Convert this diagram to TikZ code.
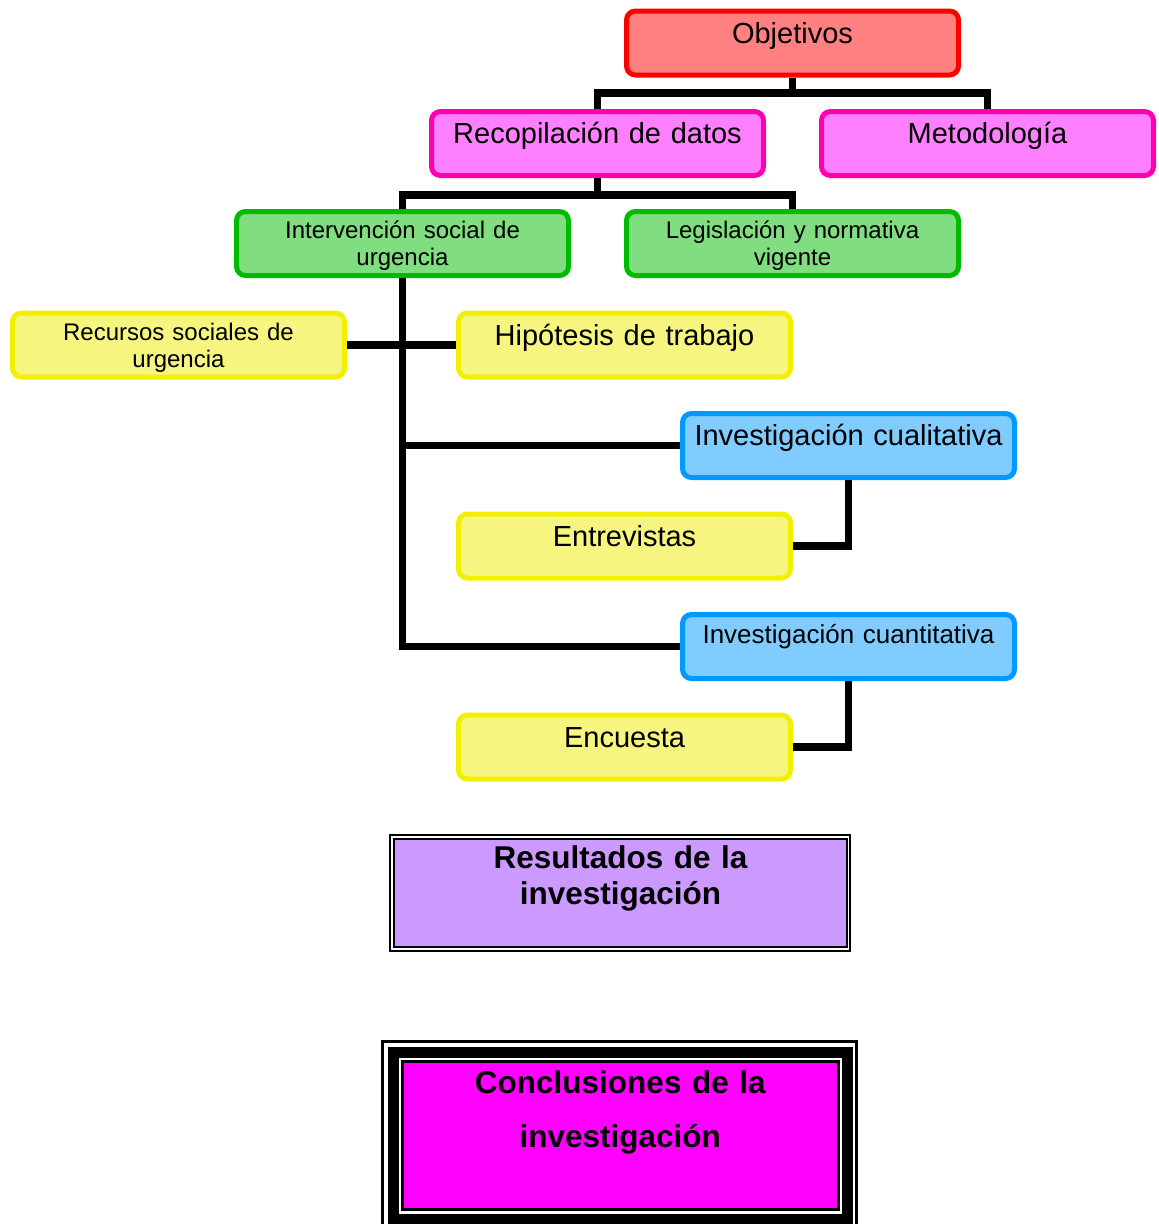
\documentclass[tikz,border=0pt]{standalone}
\usepackage{fontspec}
\setmainfont{Liberation Sans}
\definecolor{objF}{RGB}{255,128,128}
\definecolor{objD}{RGB}{255,0,0}
\definecolor{pinkF}{RGB}{255,128,255}
\definecolor{pinkD}{RGB}{255,0,175}
\definecolor{greenF}{RGB}{128,221,128}
\definecolor{greenD}{RGB}{0,187,0}
\definecolor{yelF}{RGB}{245,245,128}
\definecolor{yelD}{RGB}{240,240,0}
\definecolor{blueF}{RGB}{128,204,255}
\definecolor{blueD}{RGB}{0,153,255}
\definecolor{resF}{RGB}{204,153,255}
\definecolor{concF}{RGB}{255,0,255}
\tikzset{
  bx/.style={draw, rounded corners=9pt, line width=5pt, minimum width=332pt,
    inner sep=0pt, text width=332pt, align=center},
  big/.style={font=\fontsize{29}{35}\selectfont, text height=32pt, text depth=32pt},
  small/.style={font=\fontsize{24}{27}\selectfont, text height=27pt, text depth=37pt},
  mid/.style={font=\fontsize{26}{31}\selectfont, text height=29pt, text depth=35pt},
  redbox/.style={bx, fill=objF, draw=objD},
  pinkbox/.style={bx, fill=pinkF, draw=pinkD},
  greenbox/.style={bx, fill=greenF, draw=greenD},
  yelbox/.style={bx, fill=yelF, draw=yelD},
  bluebox/.style={bx, fill=blueF, draw=blueD},
  conn/.style={line width=7.5pt, black},
}
\begin{document}
\begin{tikzpicture}[x=1pt, y=-1pt]
\useasboundingbox (0,0) rectangle (1159,1224);

% top levels
\node[redbox, big] (obj) at (792.5,43) {Objetivos};
\node[pinkbox, big] (rec) at (597.5,143.5) {Recopilación de datos};
\node[pinkbox, big] (met) at (987.5,143.5) {Metodología};
\node[greenbox, small] (int) at (402.5,243.5) {Intervención social de\\urgencia};
\node[greenbox, small] (leg) at (792.5,243.5) {Legislación y normativa\\vigente};
\node[yelbox, small] (recs) at (178.5,345) {Recursos sociales de\\urgencia};
\node[yelbox, big] (hip) at (624.5,345) {Hipótesis de trabajo};
\node[bluebox, big] (cual) at (848.5,445.5) {Investigación cualitativa};
\node[yelbox, big] (ent) at (624.5,546) {Entrevistas};
\node[bluebox, mid] (cuant) at (848.5,646.5) {Investigación cuantitativa};
\node[yelbox, big] (enc) at (624.5,747) {Encuesta};

% connectors
\coordinate (ja) at (792.5,93);
\coordinate (jb) at (597.5,195);
\draw[conn] (obj.south) -- (ja);
\draw[conn] (rec.north) |- (ja) -| (met.north);
\draw[conn] (rec.south) -- (jb);
\draw[conn] (int.north) |- (jb) -| (leg.north);
\draw[conn] (int.south) |- (cuant.west);
\draw[conn] (int.south |- cual.west) -- (cual.west);
\draw[conn] (recs.east) -- (hip.west);
\draw[conn] (cual.south) |- (ent.east);
\draw[conn] (cuant.south) |- (enc.east);

% Resultados
\node[draw, line width=2.2pt, fill=resF, minimum width=453pt, text width=453pt, align=center,
  inner sep=0pt, font=\bfseries\fontsize{31.5}{36}\selectfont, text height=29pt, text depth=79pt]
  (res) at (620.5,893) {Resultados de la\\investigación};
\draw[line width=2.2pt] (390,835) rectangle (850,951);

% Conclusiones
\draw[line width=3pt] (382,1041.5) rectangle (856.5,1229.5);
\draw[line width=11pt] (393,1052.5) rectangle (847,1219);
\node[draw, line width=3pt, fill=concF, minimum width=435.5pt, text width=435.5pt, align=center,
  inner sep=0pt, font=\bfseries\fontsize{31.5}{54}\selectfont, text height=31.5pt, text depth=116.5pt]
  (conc) at (620.25,1135.5) {Conclusiones de la\\investigación};
\end{tikzpicture}
\end{document}
